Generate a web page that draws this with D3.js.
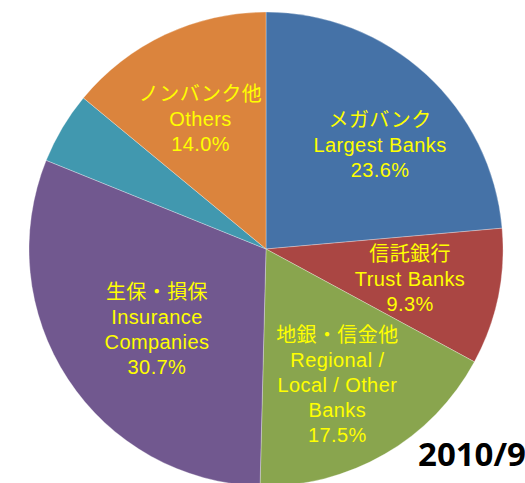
<!DOCTYPE html>
<html lang="ja">
<head>
  <meta charset="UTF-8">
  <title>2010/9 pie</title>
  <script src="https://d3js.org/d3.v7.min.js"></script>
  <style>
    body {
      margin: 0;
      background: white;
    }
    svg {
      display: block;
    }
    .slice-label {
      font-family: 'Liberation Sans', Arial, 'Noto Sans CJK JP', sans-serif;
      font-size: 20px;
      letter-spacing: 0.4px;
      fill: #ffff00;
      text-anchor: middle;
    }
    .year {
      font-family: 'Open Sans', sans-serif;
      font-weight: bold;
      font-size: 33px;
      fill: #000;
      text-anchor: end;
    }
  </style>
</head>
<body>

<svg></svg>

<script>
// slices, clockwise from 12 o'clock
const categories = ["Largest Banks", "Trust Banks", "Regional", "Insurance", "Unlabeled", "Others"];
const values = [23.6, 9.3, 17.5, 30.7, 4.9, 14.0];
const colors = ["#4572a7", "#aa4643", "#89a54e", "#71588f", "#4198af", "#db843d"];

// label lines per slice (empty = no label)
const labelLines = [
  ["メガバンク", "Largest Banks", "23.6%"],
  ["信託銀行", "Trust Banks", "9.3%"],
  ["地銀・信金他", "Regional /", "Local / Other", "Banks", "17.5%"],
  ["生保・損保", "Insurance", "Companies", "30.7%"],
  [],
  ["ノンバンク他", "Others", "14.0%"]
];

const title = "2010/9";

const width = 525, height = 483;
const cx = 266, cy = 249, radius = 237;
const lineH = 25;

const svg = d3.select("svg")
  .attr("width", width)
  .attr("height", height);

const pie = d3.pie().sort(null).value(d => d);
const arcs = pie(values);

const arc = d3.arc().innerRadius(0).outerRadius(radius);

const g = svg.append("g")
  .attr("transform", `translate(${cx},${cy})`);

g.selectAll("path")
  .data(arcs)
  .join("path")
  .attr("d", arc)
  .attr("fill", (d, i) => colors[i])
  .attr("stroke", "#ffffff")
  .attr("stroke-opacity", 0.5)
  .attr("stroke-width", 0.6);

// labels sit around half radius, nudged like the original
const labelArc = d3.arc().innerRadius(radius * 0.5).outerRadius(radius * 0.5);
const labelShift = [[34, -17], [28, 6], [12, 33], [-10, 15], [0, 0], [-15, -23]];

const labels = g.selectAll("text.slice-label")
  .data(arcs.filter((d, i) => labelLines[i].length))
  .join("text")
  .attr("class", "slice-label")
  .attr("transform", d => {
    const [x, y] = labelArc.centroid(d);
    const s = labelShift[d.index];
    return `translate(${x + s[0]},${y + s[1]})`;
  });

labels.each(function(d) {
  const lines = labelLines[d.index];
  const t = d3.select(this);
  const y0 = -(lines.length - 1) * lineH / 2 + 7;
  lines.forEach((l, k) => {
    t.append("tspan")
      .attr("x", 0)
      .attr("y", y0 + k * lineH)
      .text(l);
  });
});

svg.append("text")
  .attr("class", "year")
  .attr("x", 526)
  .attr("y", 466)
  .text(title);
</script>

</body>
</html>
